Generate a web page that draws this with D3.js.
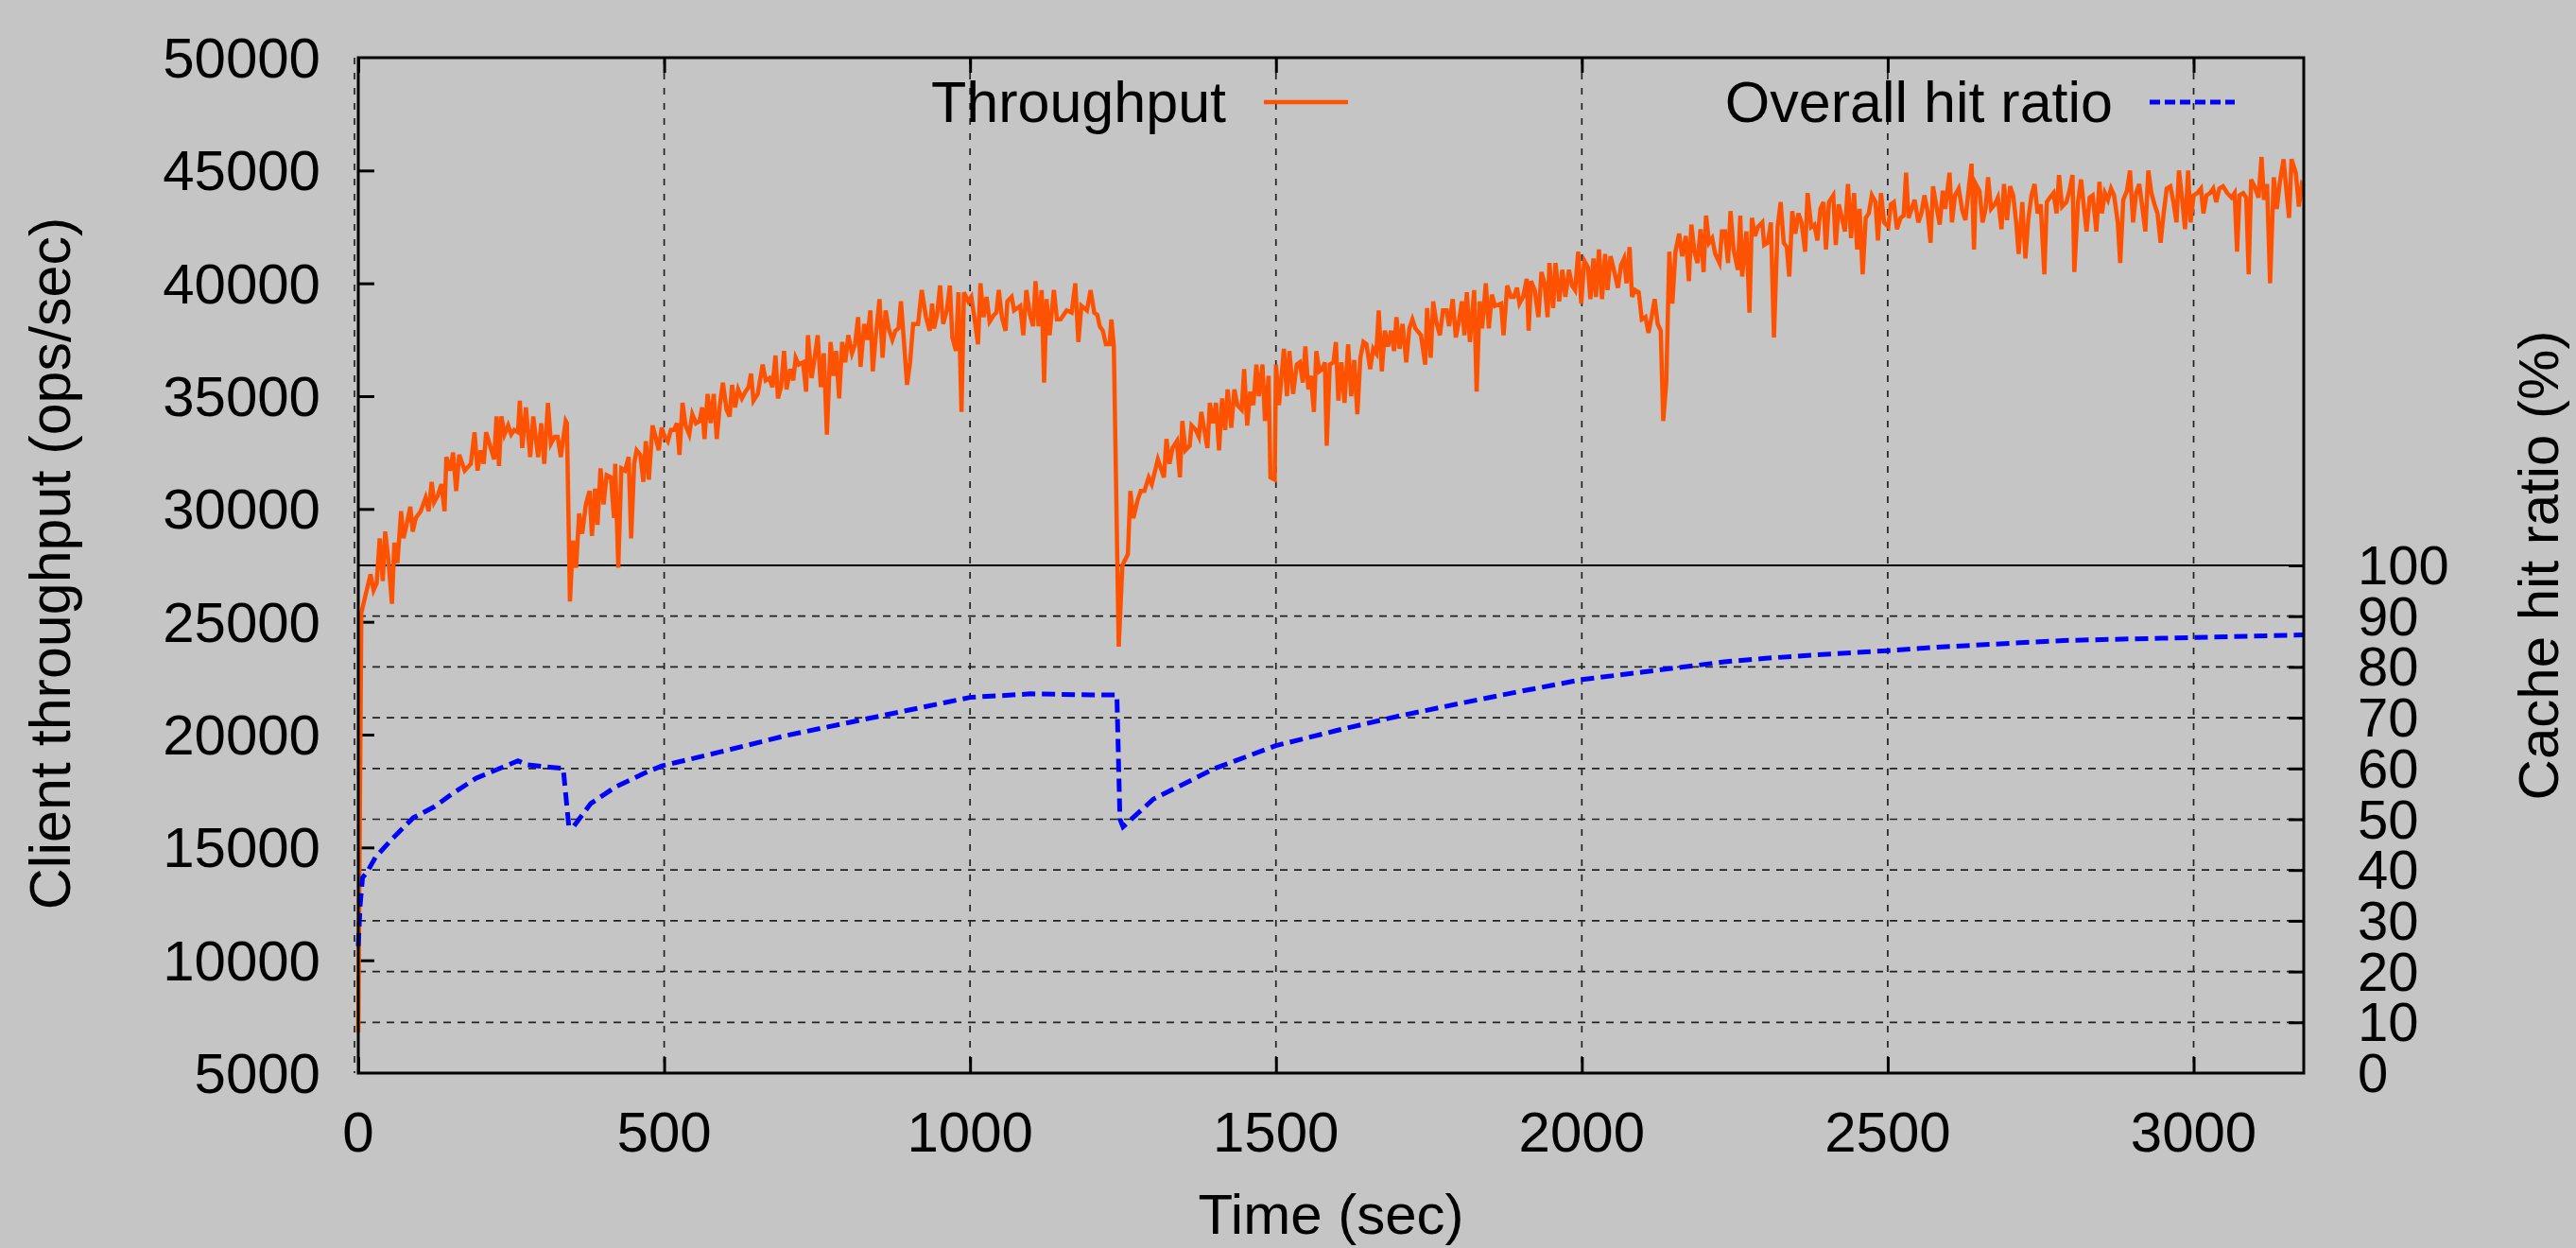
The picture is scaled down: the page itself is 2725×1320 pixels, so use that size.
<!DOCTYPE html>
<html>
<head>
<meta charset="utf-8">
<script src="https://cdn.jsdelivr.net/npm/d3@7"></script>
<style>
  html, body { margin: 0; padding: 0; background: #c4c5c4; }
  svg { display: block; font-family: "Liberation Sans", Arial, sans-serif; }
</style>
</head>
<body>
<svg id="chart"></svg>
<script>
// Throughput samples: [time (sec), ops/sec]
const throughput = [
  [0,6800],[5,25400],[20,27100],[25,26400],[30,26700],[35,28700],[40,26800],[44,29000],[49,27800],[55,25800],
  [59,28500],[64,27600],[70,29900],[74,28700],[79,29300],[85,30100],[89,29000],[94,29600],[102,29900],[110,30500],
  [115,29900],[120,31200],[124,30300],[130,30600],[136,31100],[141,29900],[144,32300],[150,31700],[155,32500],[160,30800],
  [165,32400],[174,31700],[184,32000],[190,33400],[195,31700],[200,32600],[205,32000],[209,33400],[222,32200],[226,34100],
  [230,31900],[234,34100],[239,33300],[245,33700],[250,33300],[255,33500],[261,33400],[264,34800],[268,32700],[274,34500],
  [281,32300],[286,34100],[294,32300],[299,33800],[304,32000],[310,34700],[315,32900],[321,33200],[326,33200],[331,32300],
  [339,33900],[341,33800],[346,25900],[351,28600],[356,27400],[361,29800],[366,28900],[372,30200],[378,30800],[382,28800],
  [387,30900],[391,29300],[396,31800],[401,30200],[406,31500],[413,31400],[418,29600],[420,32000],[425,27400],[430,31800],
  [436,31700],[442,32300],[446,28700],[451,32000],[455,32600],[461,32400],[466,31200],[470,33000],[475,31300],[481,33700],
  [486,33200],[491,32600],[496,33600],[501,33200],[506,33000],[511,33500],[516,33500],[521,33800],[525,32400],[530,34700],
  [535,33700],[541,33300],[546,34200],[552,33800],[558,33900],[562,34500],[566,33100],[571,35100],[576,33800],[581,35100],
  [586,33100],[591,34600],[596,35600],[602,34400],[607,34100],[611,35500],[616,34500],[621,35300],[627,34900],[633,35200],
  [638,35400],[642,36000],[646,34800],[653,35100],[661,36400],[666,35700],[672,35800],[677,35400],[682,36800],[686,34900],
  [691,35400],[696,37000],[700,35300],[706,36200],[711,35700],[715,36700],[720,36400],[727,36500],[732,35200],[735,37700],
  [741,35800],[746,36700],[751,37700],[756,35400],[761,36900],[766,33300],[772,37400],[777,35900],[781,37000],[786,34900],
  [791,37400],[796,36500],[801,37700],[807,36900],[812,37300],[817,38500],[821,36300],[827,38200],[832,37500],[837,38800],
  [841,36100],[846,37700],[852,39300],[857,36700],[862,38800],[867,38000],[873,37500],[878,37900],[883,38000],[887,39200],
  [892,37400],[897,35500],[902,36500],[907,38200],[915,38200],[921,39700],[928,38500],[934,37900],[938,39100],[941,38000],
  [946,38600],[951,39900],[956,38200],[962,38800],[967,39900],[971,37600],[977,37000],[981,39600],[986,34300],[990,39600],
  [997,39200],[1002,39400],[1007,38500],[1013,37300],[1017,40000],[1022,38500],[1027,39400],[1032,38300],[1039,38600],[1043,38700],
  [1047,39700],[1052,38500],[1058,37900],[1061,39200],[1068,39400],[1072,38800],[1082,39000],[1087,37700],[1092,39700],[1098,38600],
  [1103,38100],[1107,40100],[1112,38100],[1117,39700],[1121,35600],[1125,39300],[1130,37700],[1137,39700],[1142,38400],[1148,38400],
  [1158,38800],[1166,38700],[1172,40000],[1177,37400],[1182,39000],[1191,38800],[1197,39700],[1203,38700],[1208,38600],[1212,38100],
  [1217,37900],[1222,37300],[1228,37300],[1231,38400],[1235,37200],[1243,23900],[1249,27500],[1258,28000],[1262,30800],[1267,29600],
  [1274,30400],[1279,30800],[1285,30800],[1292,31400],[1297,31100],[1307,32200],[1317,31400],[1321,33100],[1326,32000],[1331,32700],
  [1338,33000],[1343,31400],[1347,33900],[1352,32600],[1359,32800],[1362,33700],[1369,33500],[1374,33200],[1378,34300],[1383,33500],
  [1388,32700],[1392,34700],[1397,33800],[1402,34700],[1407,32600],[1412,34900],[1417,33500],[1421,35300],[1427,33600],[1432,35300],
  [1437,34600],[1444,34400],[1448,36200],[1453,33700],[1458,35200],[1463,34600],[1468,36400],[1472,35000],[1478,36400],[1482,33900],
  [1488,35900],[1491,31400],[1498,31300],[1500,36400],[1505,34600],[1513,37100],[1518,35000],[1522,37000],[1528,35100],[1534,36400],
  [1539,36500],[1544,35600],[1548,37200],[1553,35300],[1557,35900],[1562,34300],[1566,37000],[1571,36100],[1576,36200],[1580,36500],
  [1583,32800],[1588,36400],[1594,36500],[1598,37400],[1602,34800],[1607,36500],[1612,34700],[1618,37300],[1623,35000],[1628,36600],
  [1633,34200],[1638,36700],[1643,37400],[1648,37300],[1654,36200],[1659,37100],[1664,36900],[1668,38800],[1673,36100],[1678,37900],
  [1683,37200],[1688,37900],[1693,37000],[1697,38500],[1702,37100],[1707,38200],[1713,36500],[1718,38000],[1723,38400],[1728,38000],
  [1737,37700],[1744,36400],[1747,38900],[1753,36700],[1757,39200],[1762,38300],[1768,37700],[1773,38800],[1779,38800],[1783,38100],
  [1789,39300],[1794,37600],[1799,38300],[1804,39200],[1808,37700],[1812,39600],[1817,37400],[1824,39700],[1828,35200],[1833,39200],
  [1837,38000],[1843,40000],[1848,38000],[1853,39500],[1858,39000],[1868,39100],[1872,37700],[1878,39900],[1884,39400],[1889,39400],
  [1894,39800],[1898,39100],[1904,39400],[1910,40200],[1913,37900],[1917,40100],[1923,39700],[1929,38500],[1934,40500],[1939,40000],
  [1944,38500],[1947,40900],[1953,38900],[1957,40900],[1963,39200],[1968,40600],[1973,39400],[1979,40600],[1984,39900],[1989,39700],
  [1994,41400],[1999,39100],[2004,41000],[2010,40700],[2014,39300],[2019,41100],[2023,39400],[2028,41500],[2033,39300],[2038,41300],
  [2042,39700],[2047,41200],[2054,40400],[2059,39800],[2064,40800],[2069,41100],[2073,40000],[2078,41600],[2082,39400],[2087,39700],
  [2093,39600],[2098,38400],[2104,38500],[2109,37800],[2114,38500],[2119,39300],[2124,38200],[2129,37900],[2133,33900],[2138,35600],
  [2143,41400],[2148,39100],[2153,41400],[2159,42200],[2164,41200],[2170,42100],[2175,40100],[2179,42600],[2184,41400],[2189,40900],
  [2194,42400],[2199,40500],[2203,43000],[2208,41800],[2213,42000],[2218,41300],[2225,40900],[2229,42300],[2234,42300],[2239,40900],
  [2243,43200],[2248,41500],[2255,40600],[2259,43000],[2262,40300],[2269,42300],[2274,38700],[2278,42900],[2283,42100],[2288,42500],
  [2295,42700],[2298,41700],[2304,41800],[2309,42700],[2314,37600],[2320,42500],[2325,43600],[2330,41800],[2335,41600],[2339,40300],
  [2344,43200],[2349,42200],[2354,43100],[2359,42700],[2365,41400],[2369,44000],[2375,42500],[2380,42600],[2385,41900],[2390,43300],
  [2395,43600],[2399,41500],[2404,43600],[2411,43900],[2415,41700],[2420,43500],[2425,42900],[2430,42300],[2435,44400],[2440,42000],
  [2445,44000],[2450,41500],[2454,43300],[2459,40400],[2464,42900],[2469,43100],[2474,43900],[2480,43600],[2484,41900],[2489,44000],
  [2494,42700],[2501,42500],[2505,43500],[2510,43600],[2515,42400],[2521,42900],[2526,43000],[2530,44900],[2534,42900],[2539,43300],
  [2544,43700],[2550,42700],[2555,43100],[2560,43900],[2565,43200],[2570,41800],[2574,44300],[2579,43500],[2585,42600],[2590,44100],
  [2594,43300],[2601,44900],[2605,42700],[2610,43900],[2616,44200],[2622,43200],[2627,42800],[2632,44100],[2637,45300],[2641,41500],
  [2644,44400],[2650,44100],[2655,42700],[2660,43300],[2664,44700],[2669,43300],[2675,43500],[2680,43800],[2686,42400],[2690,44400],
  [2695,42800],[2700,44300],[2705,43900],[2710,42700],[2714,41300],[2720,43600],[2725,41100],[2730,42900],[2735,43900],[2740,44400],
  [2745,43100],[2750,43500],[2756,40400],[2760,43600],[2765,43800],[2771,44000],[2776,43100],[2780,44800],[2785,43400],[2792,43600],
  [2797,44100],[2802,44800],[2805,40500],[2811,43600],[2816,44600],[2821,43300],[2825,42300],[2830,43800],[2835,43900],[2841,42300],
  [2846,44500],[2850,43100],[2855,44000],[2860,43700],[2865,44200],[2870,43900],[2876,42700],[2880,40900],[2885,43700],[2891,44100],
  [2896,45000],[2901,42700],[2906,44000],[2911,44400],[2916,43400],[2921,42300],[2926,45000],[2931,44000],[2936,43500],[2941,43100],
  [2946,41800],[2951,43100],[2956,44200],[2962,44300],[2967,43600],[2972,42700],[2976,45000],[2981,43800],[2986,42400],[2991,45000],
  [2995,42700],[3000,43900],[3006,44000],[3012,44200],[3016,43100],[3021,43900],[3027,44000],[3032,44200],[3037,43600],[3042,44200],
  [3048,44300],[3055,44000],[3062,43800],[3067,44000],[3071,41400],[3075,43900],[3081,44000],[3086,43800],[3090,40400],[3094,44600],
  [3101,44200],[3106,43800],[3111,45600],[3115,43700],[3120,44400],[3125,40000],[3131,44700],[3136,43300],[3141,44500],[3147,45500],
  [3151,44300],[3156,42900],[3160,45500],[3167,44900],[3172,43400],[3177,44400],[3180,44300]
];

// Overall cache hit ratio: [time (sec), percent]
const hitRatio = [
  [0,25],[3,33],[7,38.5],[14,39.5],[28,42.5],[56,46.2],[90,50.3],[125,52.5],[152,54.9],[193,58.1],
  [235,60.2],[261,61.5],[277,60.7],[308,60.3],[335,60],[344,48.8],[351,48.4],[380,53.1],[421,56.4],[470,59.2],
  [496,60.5],[600,63.5],[700,66.5],[800,69],[900,71.5],[1000,74],[1100,74.7],[1200,74.5],[1240,74.5],[1245,50],
  [1250,48.5],[1300,54],[1400,60],[1500,64.5],[1600,67.5],[1700,70.3],[1800,72.8],[1900,75.2],[2000,77.5],[2100,79],
  [2233,81],[2300,81.7],[2400,82.5],[2500,83.2],[2581,83.9],[2787,85.2],[3000,85.8],[3180,86.3]
];

const xTicks = [0, 500, 1000, 1500, 2000, 2500, 3000];
const yTicks = [5000, 10000, 15000, 20000, 25000, 30000, 35000, 40000, 45000, 50000];
const y2Ticks = [0, 10, 20, 30, 40, 50, 60, 70, 80, 90, 100];
const seriesNames = ["Throughput", "Overall hit ratio"];

function drawChart() {
  const width = 2725;
  const height = 1320;
  const margin = { left: 379, right: 288, top: 61, bottom: 185 };
  const plotRight = width - margin.right;
  const plotBottom = height - margin.bottom;

  const svg = d3.select("#chart")
    .attr("width", width)
    .attr("height", height);

  svg.append("rect")
    .attr("width", width)
    .attr("height", height)
    .attr("fill", "#c4c5c4");

  // Scales
  const x = d3.scaleLinear().domain([0, 3180]).range([margin.left, plotRight]);
  const y = d3.scaleLinear().domain([5000, 50000]).range([plotBottom, margin.top]);
  const y2 = d3.scaleLinear().domain([0, 100]).range([plotBottom, 598]);

  const gridColor = "#222";

  // Vertical grid lines at the x ticks
  svg.append("g")
    .selectAll("line")
    .data(xTicks)
    .enter()
    .append("line")
    .attr("x1", d => d === 0 ? x(d) - 4 : x(d))
    .attr("x2", d => d === 0 ? x(d) - 4 : x(d))
    .attr("y1", margin.top)
    .attr("y2", plotBottom)
    .attr("stroke", gridColor)
    .attr("stroke-width", 1.7)
    .attr("stroke-dasharray", "7,9");

  // Horizontal grid lines at the hit ratio ticks
  svg.append("g")
    .selectAll("line")
    .data(y2Ticks.filter(d => d > 0 && d < 100))
    .enter()
    .append("line")
    .attr("x1", margin.left)
    .attr("x2", plotRight)
    .attr("y1", d => y2(d))
    .attr("y2", d => y2(d))
    .attr("stroke", gridColor)
    .attr("stroke-width", 1.7)
    .attr("stroke-dasharray", "8,7");

  // Solid line marking 100%
  svg.append("line")
    .attr("x1", margin.left)
    .attr("x2", plotRight)
    .attr("y1", y2(100))
    .attr("y2", y2(100))
    .attr("stroke", "#000")
    .attr("stroke-width", 2);

  // Axes (ticks drawn inward, labels placed by hand below)
  const tickStyle = g => {
    g.select(".domain").remove();
    g.selectAll(".tick line").attr("stroke", "#000").attr("stroke-width", 3);
    g.selectAll(".tick text").remove();
  };

  svg.append("g")
    .attr("transform", `translate(0,${plotBottom})`)
    .call(d3.axisBottom(x).tickValues(xTicks).tickSize(-17))
    .call(tickStyle);

  svg.append("g")
    .attr("transform", `translate(0,${margin.top})`)
    .call(d3.axisTop(x).tickValues(xTicks).tickSize(-16))
    .call(tickStyle);

  svg.append("g")
    .attr("transform", `translate(${margin.left},0)`)
    .call(d3.axisLeft(y).tickValues(yTicks.slice(1, -1)).tickSize(-17))
    .call(tickStyle);

  svg.append("g")
    .attr("transform", `translate(${plotRight},0)`)
    .call(d3.axisRight(y2).tickValues(y2Ticks.slice(1)).tickSize(-16))
    .call(tickStyle);

  // Data lines
  const throughputLine = d3.line()
    .x(d => x(d[0]))
    .y(d => y(d[1]));

  const hitLine = d3.line()
    .x(d => x(d[0]))
    .y(d => y2(d[1]));

  svg.append("path")
    .datum(throughput)
    .attr("fill", "none")
    .attr("stroke", "#ff5200")
    .attr("stroke-width", 4.5)
    .attr("stroke-linejoin", "miter")
    .attr("d", throughputLine);

  svg.append("path")
    .datum(hitRatio)
    .attr("fill", "none")
    .attr("stroke", "#0000ff")
    .attr("stroke-width", 5)
    .attr("stroke-dasharray", "14,7")
    .attr("d", hitLine);

  // Border
  svg.append("rect")
    .attr("x", margin.left)
    .attr("y", margin.top)
    .attr("width", plotRight - margin.left)
    .attr("height", plotBottom - margin.top)
    .attr("fill", "none")
    .attr("stroke", "#000")
    .attr("stroke-width", 3);

  // Tick labels
  svg.append("g")
    .selectAll("text")
    .data(yTicks)
    .enter()
    .append("text")
    .attr("x", 339)
    .attr("y", d => y(d) + 21)
    .attr("text-anchor", "end")
    .style("font-size", "60px")
    .text(d => d);

  svg.append("g")
    .selectAll("text")
    .data(xTicks)
    .enter()
    .append("text")
    .attr("x", d => x(d))
    .attr("y", 1218)
    .attr("text-anchor", "middle")
    .style("font-size", "60px")
    .text(d => d);

  svg.append("g")
    .selectAll("text")
    .data(y2Ticks)
    .enter()
    .append("text")
    .attr("x", 2494)
    .attr("y", d => y2(d) + 20)
    .attr("text-anchor", "start")
    .style("font-size", "58px")
    .text(d => d);

  // Axis titles
  svg.append("text")
    .attr("x", (margin.left + plotRight) / 2)
    .attr("y", 1305)
    .attr("text-anchor", "middle")
    .style("font-size", "60px")
    .text("Time (sec)");

  svg.append("text")
    .attr("transform", `translate(74,596) rotate(-90)`)
    .attr("text-anchor", "middle")
    .style("font-size", "61px")
    .text("Client throughput (ops/sec)");

  svg.append("text")
    .attr("transform", `translate(2706,598) rotate(-90)`)
    .attr("text-anchor", "middle")
    .style("font-size", "60px")
    .text("Cache hit ratio (%)");

  // Legend
  const legend = [
    { name: seriesNames[0], textX: 1297, x1: 1337, x2: 1426, color: "#ff5200", dash: null, w: 4.5 },
    { name: seriesNames[1], textX: 2235, x1: 2274, x2: 2364, color: "#0000ff", dash: "11,5", w: 5 }
  ];

  const key = svg.append("g")
    .selectAll("g")
    .data(legend)
    .enter()
    .append("g");

  key.append("text")
    .attr("x", d => d.textX)
    .attr("y", 129)
    .attr("text-anchor", "end")
    .style("font-size", "61px")
    .text(d => d.name);

  key.append("line")
    .attr("x1", d => d.x1)
    .attr("x2", d => d.x2)
    .attr("y1", 108)
    .attr("y2", 108)
    .attr("stroke", d => d.color)
    .attr("stroke-width", d => d.w)
    .attr("stroke-dasharray", d => d.dash);
}

drawChart();
</script>
</body>
</html>
